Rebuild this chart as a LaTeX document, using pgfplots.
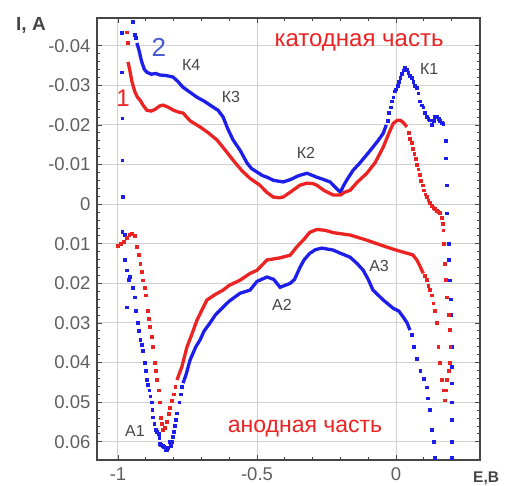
\documentclass[border=0pt]{standalone}
\usepackage{pgfplots}
\pgfplotsset{compat=1.18}
\usepackage{fontspec}
\setmainfont{Liberation Sans}
\definecolor{cblue}{RGB}{30,30,235}
\definecolor{cred}{RGB}{235,35,35}
\definecolor{lblue}{RGB}{70,90,205}
\definecolor{dgray}{RGB}{70,70,70}
\definecolor{tgray}{RGB}{95,95,95}
\begin{document}
\begin{tikzpicture}
\useasboundingbox (-97pt,-26pt) rectangle (410pt,460pt);
\begin{axis}[
  at={(0,0)}, anchor=south west,
  scale only axis, width=383pt, height=442pt,
  xmin=-1.0755, xmax=0.302, ymin=-0.047, ymax=0.0646,
  y dir=reverse,
  clip=false,
  scaled y ticks=false, scaled x ticks=false,
  xtick={-1,-0.5,0}, xticklabels={-1,-0.5,0},
  minor xtick={-0.9,-0.8,-0.7,-0.6,-0.4,-0.3,-0.2,-0.1,0.1,0.2},
  ytick={-0.04,-0.03,-0.02,-0.01,0,0.01,0.02,0.03,0.04,0.05,0.06},
  yticklabels={-0.04,-0.03,-0.02,-0.01,0,0.01,0.02,0.03,0.04,0.05,0.06},
  minor y tick num=4,
  /pgf/number format/assume math mode=true,
  tick label style={font=\fontsize{18.5}{20}\selectfont, text=tgray},
  xticklabel style={yshift=-4pt},
  yticklabel style={xshift=-3pt},
  tick align=inside,
  major tick length=5pt, minor tick length=3pt,
  tick style={dgray, line width=0.8pt},
  axis line style={line width=1.8pt, color=dgray},
  grid=major,
  major grid style={black!18, line width=1pt},
]
% ---------- Curve 2 (blue) ----------
\addplot[cblue, line width=3.3pt] coordinates {
(-0.932,-0.0407)(-0.925,-0.039)(-0.915,-0.036)(-0.905,-0.034)(-0.896,-0.0333)(-0.88,-0.0328)(-0.865,-0.0330)(-0.849,-0.0326)(-0.83,-0.0325)(-0.815,-0.0323)(-0.802,-0.0321)(-0.785,-0.031)(-0.766,-0.0295)(-0.74,-0.0282)(-0.716,-0.027)(-0.69,-0.026)(-0.658,-0.0245)(-0.64,-0.0237)(-0.622,-0.022)(-0.605,-0.019)(-0.586,-0.0162)(-0.56,-0.0135)(-0.536,-0.0104)(-0.52,-0.009)(-0.5,-0.0081)(-0.48,-0.0072)(-0.464,-0.0068)(-0.44,-0.006)(-0.406,-0.0056)(-0.38,-0.0062)(-0.35,-0.0072)(-0.32,-0.0078)(-0.285,-0.0068)(-0.26,-0.0062)(-0.237,-0.0056)(-0.215,-0.004)(-0.2,-0.003)(-0.19,-0.0045)(-0.177,-0.0061)(-0.155,-0.0085)(-0.13,-0.0104)(-0.105,-0.0125)(-0.083,-0.0144)(-0.065,-0.016)(-0.046,-0.0179)(-0.035,-0.020)
};
\addplot[cblue, only marks, mark=square*, mark size=1.4pt] coordinates {
(-0.946,-0.046)(-0.94,-0.0427)(-0.936,-0.042)
(-0.986,-0.0432)(-0.986,-0.0333)(-0.985,-0.0217)(-0.985,-0.0111)(-0.982,-0.0018)(-0.985,0.007)(-0.975,0.0078)
(-0.03,-0.021)(-0.025,-0.023)(-0.02,-0.0245)(-0.015,-0.026)(-0.01,-0.027)(-0.005,-0.0285)(0.0,-0.029)(0.005,-0.030)(0.01,-0.031)(0.015,-0.032)(0.02,-0.033)(0.026,-0.0338)(0.032,-0.0345)(0.038,-0.034)(0.044,-0.0331)(0.05,-0.0325)(0.056,-0.032)(0.062,-0.031)(0.068,-0.030)(0.074,-0.0295)(0.08,-0.028)(0.086,-0.026)(0.092,-0.025)(0.098,-0.0245)(0.104,-0.023)(0.11,-0.022)(0.116,-0.0215)(0.122,-0.0212)(0.128,-0.020)(0.135,-0.021)(0.14,-0.022)(0.147,-0.022)(0.153,-0.0215)(0.158,-0.021)(0.163,-0.0205)(0.17,-0.0204)
(0.178,-0.016)(0.18,-0.0116)(0.183,-0.0048)(0.183,0.0023)(0.188,0.0099)(0.19,0.014)(0.194,0.0192)(0.196,0.024)(0.197,0.028)(0.2,0.036)(0.2,0.041)(0.2,0.0452)(0.2,0.05)(0.2,0.0545)(0.2,0.06)(0.2,0.064)
(0.14,0.064)(0.135,0.06)(0.129,0.057)(0.122,0.052)(0.115,0.049)(0.11,0.0462)(0.1,0.044)(0.087,0.042)(0.075,0.039)(0.063,0.036)(0.055,0.033)
(-0.77,0.046)(-0.775,0.048)(-0.78,0.050)(-0.788,0.0528)(-0.792,0.0545)(-0.795,0.056)(-0.799,0.0575)(-0.802,0.0588)(-0.806,0.060)(-0.81,0.061)(-0.815,0.060)(-0.82,0.0615)(-0.824,0.0621)(-0.83,0.062)(-0.835,0.0612)(-0.84,0.061)(-0.845,0.0608)(-0.849,0.0604)(-0.852,0.059)(-0.855,0.058)(-0.86,0.0575)(-0.865,0.057)(-0.87,0.0555)(-0.874,0.0538)(-0.877,0.052)(-0.88,0.050)(-0.884,0.0485)(-0.888,0.047)(-0.892,0.0455)(-0.896,0.0444)(-0.9,0.042)(-0.905,0.040)(-0.91,0.037)(-0.915,0.0355)(-0.92,0.0343)(-0.925,0.032)(-0.93,0.030)(-0.935,0.027)(-0.94,0.0235)(-0.948,0.021)(-0.957,0.0184)(-0.968,0.0167)(-0.975,0.0141)(-0.968,0.026)(-0.962,0.019)
};
\addplot[cblue, line width=3.3pt] coordinates {
(0.05,0.0318)(0.04,0.030)(0.026,0.0285)(0.01,0.027)(-0.01,0.0263)(-0.046,0.0242)(-0.083,0.0217)(-0.1,0.019)(-0.118,0.0167)(-0.14,0.015)(-0.165,0.0134)(-0.2,0.0124)(-0.226,0.0116)(-0.267,0.0111)(-0.29,0.0115)(-0.31,0.0124)(-0.33,0.014)(-0.345,0.0159)(-0.365,0.019)(-0.381,0.020)(-0.417,0.021)(-0.44,0.019)(-0.464,0.0184)(-0.5,0.0195)(-0.525,0.0217)(-0.561,0.0225)(-0.6,0.0245)(-0.622,0.026)(-0.65,0.028)(-0.669,0.030)(-0.69,0.032)(-0.705,0.0343)(-0.72,0.036)(-0.741,0.0394)(-0.755,0.043)(-0.766,0.0452)
};
% ---------- Curve 1 (red) ----------
\addplot[cred, line width=3.3pt] coordinates {
(-0.964,-0.0359)(-0.958,-0.034)(-0.95,-0.031)(-0.94,-0.0285)(-0.93,-0.027)(-0.92,-0.0262)(-0.91,-0.025)(-0.896,-0.0237)(-0.88,-0.0235)(-0.865,-0.024)(-0.85,-0.0248)(-0.838,-0.025)(-0.82,-0.0245)(-0.8,-0.0237)(-0.78,-0.0232)(-0.766,-0.023)(-0.74,-0.021)(-0.705,-0.0195)(-0.675,-0.018)(-0.644,-0.0162)(-0.615,-0.0137)(-0.586,-0.0111)(-0.555,-0.0085)(-0.525,-0.0065)(-0.49,-0.0048)(-0.465,-0.003)(-0.442,-0.0018)(-0.42,-0.0016)(-0.406,-0.0018)(-0.385,-0.0028)(-0.371,-0.0035)(-0.345,-0.0048)(-0.32,-0.0053)(-0.3,-0.0052)(-0.285,-0.0048)(-0.26,-0.0035)(-0.226,-0.0023)(-0.2,-0.0023)(-0.185,-0.003)(-0.165,-0.0035)(-0.14,-0.0055)(-0.105,-0.0078)(-0.075,-0.0105)(-0.046,-0.0144)(-0.025,-0.018)(-0.01,-0.0204)(0.005,-0.0212)(0.014,-0.0212)(0.025,-0.0207)(0.039,-0.0195)
};
\addplot[cred, only marks, mark=square*, mark size=1.4pt] coordinates {
(-0.968,-0.0434)(-0.964,-0.0407)
(0.045,-0.018)(0.05,-0.0165)(0.055,-0.0155)(0.06,-0.014)(0.065,-0.0128)(0.07,-0.0115)(0.075,-0.010)(0.08,-0.0088)(0.085,-0.0075)(0.09,-0.006)(0.095,-0.0048)(0.1,-0.0035)(0.105,-0.0025)(0.11,-0.0018)(0.116,-0.001)(0.122,-0.0003)(0.128,0.0003)(0.134,0.0008)(0.14,0.0012)(0.146,0.0016)(0.152,0.0019)(0.158,0.0022)(0.163,0.0035)(0.168,0.005)(0.17,0.0066)
(0.172,0.010)(0.175,0.015)(0.178,0.019)(0.183,0.0235)(0.188,0.028)(0.194,0.0318)(0.195,0.036)(0.194,0.040)(0.19,0.042)(0.183,0.0444)(0.18,0.047)(0.176,0.0495)
(0.17,0.047)(0.165,0.0444)(0.158,0.040)(0.152,0.036)(0.147,0.030)(0.14,0.027)(0.134,0.025)(0.128,0.023)(0.122,0.0217)(0.116,0.0205)(0.11,0.019)(0.104,0.018)
(-0.794,0.046)(-0.8,0.048)(-0.806,0.0497)(-0.813,0.0513)(-0.819,0.053)(-0.825,0.055)(-0.832,0.0565)(-0.838,0.057)(-0.842,0.0555)(-0.845,0.054)(-0.85,0.050)(-0.855,0.047)(-0.86,0.0444)(-0.864,0.042)(-0.868,0.040)(-0.875,0.036)(-0.88,0.0335)(-0.885,0.031)(-0.889,0.029)(-0.893,0.027)(-0.9,0.023)(-0.905,0.021)(-0.91,0.0192)(-0.915,0.017)(-0.92,0.015)(-0.926,0.0128)(-0.932,0.0108)(-0.94,0.008)(-0.95,0.0074)(-0.96,0.0078)(-0.97,0.0085)(-0.98,0.0095)(-0.99,0.010)(-1.0,0.0104)
};
\addplot[cred, line width=3.3pt] coordinates {
(0.098,0.0175)(0.087,0.0158)(0.075,0.0141)(0.06,0.0128)(0.04,0.0124)(0.01,0.0118)(-0.022,0.0111)(-0.06,0.0102)(-0.105,0.0091)(-0.165,0.0078)(-0.226,0.0072)(-0.255,0.0066)(-0.285,0.0064)(-0.31,0.0071)(-0.33,0.0088)(-0.345,0.0099)(-0.357,0.0108)(-0.381,0.0129)(-0.42,0.0136)(-0.464,0.0141)(-0.5,0.0167)(-0.525,0.0175)(-0.561,0.0192)(-0.6,0.0205)(-0.622,0.0217)(-0.65,0.0228)(-0.68,0.0242)(-0.7,0.027)(-0.716,0.0293)(-0.735,0.033)(-0.752,0.0361)(-0.77,0.041)(-0.788,0.0444)
};
% ---------- annotations ----------
\begin{scope}[every node/.style={inner sep=0pt}]
\node[text=dgray, font=\fontsize{16}{18}\selectfont] at (axis cs:-0.737,-0.0351) {К4};
\node[text=dgray, font=\fontsize{16}{18}\selectfont] at (axis cs:-0.594,-0.0270) {К3};
\node[text=dgray, font=\fontsize{16}{18}\selectfont] at (axis cs:-0.324,-0.0129) {К2};
\node[text=dgray, font=\fontsize{16}{18}\selectfont] at (axis cs:0.119,-0.0341) {К1};
\node[text=dgray, font=\fontsize{16}{18}\selectfont] at (axis cs:-0.939,0.0573) {А1};
\node[text=dgray, font=\fontsize{16}{18}\selectfont] at (axis cs:-0.410,0.0255) {А2};
\node[text=dgray, font=\fontsize{16}{18}\selectfont] at (axis cs:-0.061,0.0157) {А3};
\node[text=cred, font=\fontsize{24}{26}\selectfont] at (axis cs:-0.982,-0.0268) {1};
\node[text=lblue, font=\fontsize{26}{28}\selectfont] at (axis cs:-0.853,-0.0396) {2};
\node[text=cred, font=\fontsize{24}{26}\selectfont] at (axis cs:-0.133,-0.0409) {катодная часть};
\node[text=cred, font=\fontsize{23}{25}\selectfont] at (axis cs:-0.327,0.0566) {анодная часть};
\node[text=dgray, font=\bfseries\fontsize{19}{21}\selectfont] at (axis cs:-1.313,-0.0452) {I, A};
\node[text=dgray, font=\bfseries\fontsize{15.5}{17}\selectfont] at (axis cs:0.324,0.0692) {E,B};
\end{scope}
\end{axis}
\end{tikzpicture}
\end{document}
